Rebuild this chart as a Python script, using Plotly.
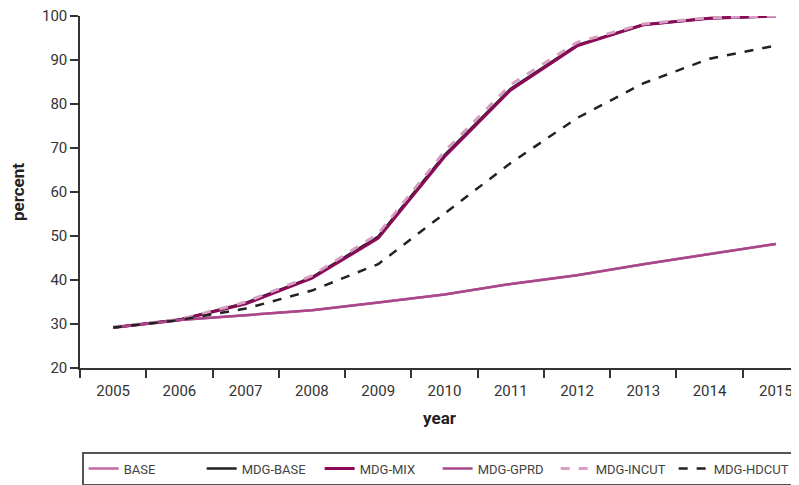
import plotly.graph_objects as go

years = ["2005", "2006", "2007", "2008", "2009", "2010",
         "2011", "2012", "2013", "2014", "2015"]

base = [29.2, 30.9, 32.0, 33.1, 34.9, 36.7, 39.1, 41.1, 43.6, 45.9, 48.2]
mdg_base = [29.2, 31.0, 34.8, 40.6, 49.9, 68.4, 83.5, 93.4, 98.0, 99.5, 100.0]
mdg_mix = [29.2, 30.9, 34.6, 40.4, 49.5, 68.0, 83.2, 93.2, 98.0, 99.5, 100.0]
mdg_gprd = [29.2, 30.9, 32.0, 33.1, 34.9, 36.7, 39.1, 41.1, 43.6, 45.9, 48.2]
mdg_incut = [29.3, 31.0, 35.0, 41.0, 50.5, 69.2, 84.4, 94.0, 98.2, 99.6, 100.0]
mdg_hdcut = [29.2, 30.9, 33.5, 37.6, 43.6, 55.2, 66.6, 76.8, 84.7, 90.3, 93.3]

FONT = "Roboto, Liberation Sans, sans-serif"

series = [
    ("BASE", base, "#c2689f", 2.5, "solid"),
    ("MDG-BASE", mdg_base, "#222222", 2.5, "solid"),
    ("MDG-MIX", mdg_mix, "#8a0a58", 3, "solid"),
    ("MDG-GPRD", mdg_gprd, "#a9478a", 2.5, "solid"),
    ("MDG-INCUT", mdg_incut, "#d6a0c2", 3, "dash"),
    ("MDG-HDCUT", mdg_hdcut, "#222222", 2.5, "dash"),
]

fig = go.Figure()
for name, vals, col, w, dash in series:
    fig.add_trace(go.Scatter(x=years, y=vals, name=name, mode="lines",
                             line=dict(color=col, width=w, dash=dash)))

# page body has an 8px margin, so the figure is a bit smaller than the window
fig.update_layout(
    width=791, height=477,
    margin=dict(l=72, r=0, t=8, b=117, autoexpand=False),
    paper_bgcolor="white", plot_bgcolor="white",
    font=dict(family=FONT, size=15, color="#333"),
    legend=dict(orientation="h", x=0.003, xanchor="left", y=-0.239, yanchor="top",
                bordercolor="#555", borderwidth=1.5,
                font=dict(size=13, color="#444"),
                entrywidth=73, entrywidthmode="pixels"),
)
fig.update_xaxes(type="category", range=[-0.5, 10.35], tickson="boundaries",
                 ticks="outside", ticklen=8, tickwidth=1.5, tickcolor="#333",
                 ticklabelstandoff=8, ticklabeloverflow="allow",
                 showline=True, linecolor="#333", linewidth=1.5, showgrid=False,
                 title=dict(text="<b>year</b>", font=dict(size=17, color="#222"), standoff=13))
fig.update_yaxes(range=[20, 100], dtick=10, ticks="outside", ticklen=8,
                 tickwidth=1.5, tickcolor="#333", ticklabeloverflow="allow",
                 showline=True, linecolor="#333", linewidth=1.5, showgrid=False,
                 zeroline=False,
                 title=dict(text="<b>percent</b>", font=dict(size=17, color="#222"), standoff=22))

fig.write_html("out.html")
